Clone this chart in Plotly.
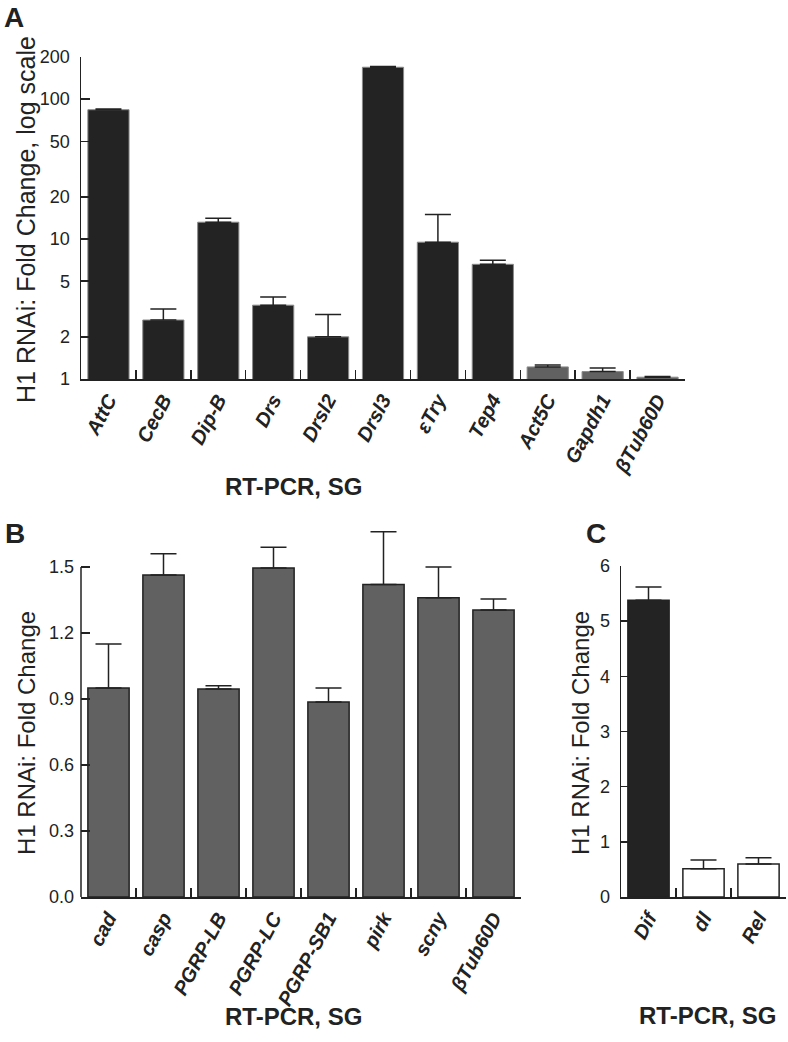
import plotly.graph_objects as go

# ---------------- data ----------------
genes_a = ["AttC", "CecB", "Dip-B", "Drs", "Drsl2", "Drsl3", "εTry", "Tep4", "Act5C", "Gapdh1", "βTub60D"]
fold_a = [84, 2.64, 13.2, 3.37, 2.0, 169, 9.5, 6.6, 1.22, 1.13, 1.03]
upper_a = [85, 3.17, 14.1, 3.85, 2.89, 171, 15.0, 7.06, 1.26, 1.20, 1.04]
fill_a = ["#232323"] * 8 + ["#616161"] * 3
yticks_a = [1, 2, 5, 10, 20, 50, 100, 200]

genes_b = ["cad", "casp", "PGRP-LB", "PGRP-LC", "PGRP-SB1", "pirk", "scny", "βTub60D"]
fold_b = [0.95, 1.464, 0.945, 1.495, 0.886, 1.42, 1.36, 1.305]
upper_b = [1.15, 1.56, 0.96, 1.59, 0.95, 1.66, 1.50, 1.355]
yticks_b = [0.0, 0.3, 0.6, 0.9, 1.2, 1.5]

genes_c = ["Dif", "dl", "Rel"]
fold_c = [5.38, 0.51, 0.60]
upper_c = [5.62, 0.67, 0.71]
fill_c = ["#232323", "#ffffff", "#ffffff"]
yticks_c = [0, 1, 2, 3, 4, 5, 6]

W, H = 788, 1042
FONT = "Liberation Sans, Arial, sans-serif"
INK = "#222222"


def px_x(x):
    return x / W


def px_y(y):
    return 1 - y / H


fig = go.Figure()

fig.add_trace(go.Bar(
    x=genes_a, y=fold_a, xaxis="x", yaxis="y",
    marker=dict(color=fill_a, line=dict(color="#8a8a8a", width=1)),
    error_y=dict(type="data", symmetric=False,
                 array=[u - v for u, v in zip(upper_a, fold_a)],
                 arrayminus=[0] * len(fold_a),
                 color=INK, thickness=1.5, width=13),
    showlegend=False))

fig.add_trace(go.Bar(
    x=genes_b, y=fold_b, xaxis="x2", yaxis="y2",
    marker=dict(color="#616161", line=dict(color=INK, width=1.5)),
    error_y=dict(type="data", symmetric=False,
                 array=[u - v for u, v in zip(upper_b, fold_b)],
                 arrayminus=[0] * len(fold_b),
                 color=INK, thickness=1.5, width=13),
    showlegend=False))

fig.add_trace(go.Bar(
    x=genes_c, y=fold_c, xaxis="x3", yaxis="y3",
    marker=dict(color=fill_c, line=dict(color=INK, width=1.5)),
    error_y=dict(type="data", symmetric=False,
                 array=[u - v for u, v in zip(upper_c, fold_c)],
                 arrayminus=[0] * len(fold_c),
                 color=INK, thickness=1.5, width=13),
    showlegend=False))

xcommon = dict(type="category", showline=True, linecolor=INK, linewidth=1.5,
               ticks="inside", tickson="boundaries", ticklen=9, tickwidth=1.5,
               tickcolor=INK, tickangle=-62, showgrid=False, zeroline=False,
               automargin=False,
               tickfont=dict(family=FONT, size=20, color=INK, weight="bold", style="italic"))
ycommon = dict(showline=True, linecolor=INK, linewidth=1.5, ticks="inside",
               ticklen=9, tickwidth=1.5, tickcolor=INK, showgrid=False,
               zeroline=False, ticklabelstandoff=6, automargin=False,
               tickfont=dict(family=FONT, size=18, color=INK))

fig.update_layout(
    template="none",
    width=W, height=H, margin=dict(l=0, r=0, t=0, b=0, autoexpand=False),
    paper_bgcolor="white", plot_bgcolor="white", bargap=0.25,
    font=dict(family=FONT, color=INK),
    xaxis=dict(xcommon, domain=[px_x(81), px_x(685)], anchor="y"),
    yaxis=dict(ycommon, type="log", range=[0, 2.30103], domain=[px_y(379), px_y(57)],
               anchor="x", tickvals=yticks_a, ticktext=[str(v) for v in yticks_a]),
    xaxis2=dict(xcommon, domain=[px_x(81), px_x(521)], anchor="y2"),
    yaxis2=dict(ycommon, range=[0, 1.7], domain=[px_y(897), px_y(897 - 1.7 * 220)],
                anchor="x2", showline=False, tickvals=yticks_b,
                ticktext=[f"{v:.1f}" for v in yticks_b]),
    xaxis3=dict(xcommon, domain=[px_x(621), px_x(786)], anchor="y3"),
    yaxis3=dict(ycommon, range=[0, 6], domain=[px_y(897), px_y(566)],
                anchor="x3", tickvals=yticks_c, ticktext=[str(v) for v in yticks_c]),
)

# y-axis line of panel B only up to 1.5
fig.add_shape(type="line", xref="x2 domain", yref="y2", x0=0, x1=0, y0=0, y1=1.5,
              line=dict(color=INK, width=1.5))

ann = []
def txt(x, y, s, size, bold=False, angle=0):
    ann.append(dict(x=px_x(x), y=px_y(y), xref="paper", yref="paper", text=s,
                    showarrow=False, textangle=angle, xanchor="center", yanchor="middle",
                    font=dict(family=FONT, size=size, color=INK,
                              weight="bold" if bold else "normal")))

txt(14, 17, "A", 28, bold=True)
txt(15, 533, "B", 28, bold=True)
txt(596, 533, "C", 28, bold=True)
txt(26, 220, "H1 RNAi: Fold Change, log scale", 25, angle=-90)
txt(26, 733, "H1 RNAi: Fold Change", 24, angle=-90)
txt(580, 733, "H1 RNAi: Fold Change", 24, angle=-90)
txt(293, 486, "RT-PCR, SG", 24, bold=True)
txt(293, 1016, "RT-PCR, SG", 24, bold=True)
txt(707, 1015, "RT-PCR, SG", 24, bold=True)
fig.update_layout(annotations=ann)

fig.write_html("out.html", config={"displayModeBar": False, "staticPlot": True},
               post_script="document.body.style.margin='0';document.body.style.overflow='hidden';")
